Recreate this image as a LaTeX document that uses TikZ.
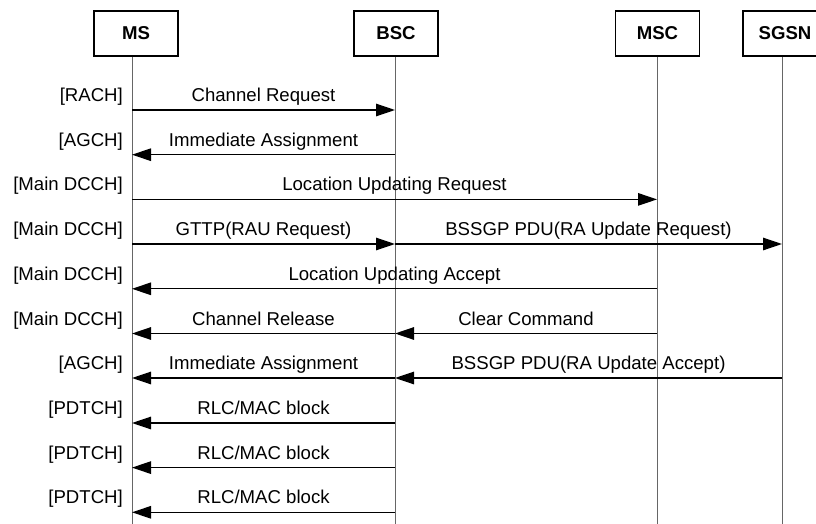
\documentclass[tikz,border=0pt]{standalone}
\usepackage{fontspec}
\setmainfont{Liberation Sans}
\usetikzlibrary{arrows.meta}
\begin{document}
\begin{tikzpicture}[x=1pt,y=-1pt,
  actor/.style={draw, line width=1.6pt, minimum width=84pt, minimum height=45pt,
    font=\fontsize{18.6}{22}\selectfont\bfseries, inner sep=0pt},
  lifeline/.style={draw=black!60, line width=0.9pt},
  msg/.style={line width=1.3pt, -{Triangle[length=19pt,width=12.5pt]}},
  lbl/.style={font=\fontsize{18.6}{22}\selectfont, anchor=base, inner sep=0pt, yshift=8.5pt},
  chan/.style={font=\fontsize{18.6}{22}\selectfont, anchor=base east, inner sep=0pt}]
\useasboundingbox (0,0) rectangle (816,524);
% actors
\node[actor] (ms)   at (136,33.5) {MS};
\node[actor] (bsc)  at (396,33.5) {BSC};
\node[actor] (msc)  at (657.5,33.5) {MSC};
\node[actor] (sgsn) at (785,33.5) {SGSN};
% lifelines
\coordinate (msL)   at (132,524);
\coordinate (bscL)  at (395,524);
\coordinate (mscL)  at (657,524);
\coordinate (sgsnL) at (782,524);
\draw[lifeline] (ms.south -| msL) -- (msL);
\draw[lifeline] (bsc.south -| bscL) -- (bscL);
\draw[lifeline] (msc.south -| mscL) -- (mscL);
\draw[lifeline] (sgsn.south -| sgsnL) -- (sgsnL);
% rows
\coordinate (r1)  at (0,110);
\coordinate (r2)  at (0,154.7);
\coordinate (r3)  at (0,199.4);
\coordinate (r4)  at (0,244);
\coordinate (r5)  at (0,288.8);
\coordinate (r6)  at (0,333.5);
\coordinate (r7)  at (0,378);
\coordinate (r8)  at (0,423);
\coordinate (r9)  at (0,467.6);
\coordinate (r10) at (0,512.3);
% channel labels
\node[chan] (c1)  at ([xshift=-9pt,yshift=8.5pt] r1 -| msL)  {[RACH]};
\node[chan] (c2)  at ([xshift=-9pt,yshift=8.5pt] r2 -| msL)  {[AGCH]};
\node[chan] (c3)  at ([xshift=-9pt,yshift=8.5pt] r3 -| msL)  {[Main DCCH]};
\node[chan] (c4)  at ([xshift=-9pt,yshift=8.5pt] r4 -| msL)  {[Main DCCH]};
\node[chan] (c5)  at ([xshift=-9pt,yshift=8.5pt] r5 -| msL)  {[Main DCCH]};
\node[chan] (c6)  at ([xshift=-9pt,yshift=8.5pt] r6 -| msL)  {[Main DCCH]};
\node[chan] (c7)  at ([xshift=-9pt,yshift=8.5pt] r7 -| msL)  {[AGCH]};
\node[chan] (c8)  at ([xshift=-9pt,yshift=8.5pt] r8 -| msL)  {[PDTCH]};
\node[chan] (c9)  at ([xshift=-9pt,yshift=8.5pt] r9 -| msL)  {[PDTCH]};
\node[chan] (c10) at ([xshift=-9pt,yshift=8.5pt] r10 -| msL) {[PDTCH]};
% messages
\draw[msg] (r1 -| msL) -- node[lbl] {Channel Request} (r1 -| bscL);
\draw[msg] (r2 -| bscL) -- node[lbl] {Immediate Assignment} (r2 -| msL);
\draw[msg] (r3 -| msL) -- node[lbl] {Location Updating Request} (r3 -| mscL);
\draw[msg] (r4 -| msL) -- node[lbl] {GTTP(RAU Request)} (r4 -| bscL);
\draw[msg] (r4 -| bscL) -- node[lbl] {BSSGP PDU(RA Update Request)} (r4 -| sgsnL);
\draw[msg] (r5 -| mscL) -- node[lbl] {Location Updating Accept} (r5 -| msL);
\draw[msg] (r6 -| bscL) -- node[lbl] {Channel Release} (r6 -| msL);
\draw[msg] (r6 -| mscL) -- node[lbl] {Clear Command} (r6 -| bscL);
\draw[msg] (r7 -| bscL) -- node[lbl] {Immediate Assignment} (r7 -| msL);
\draw[msg] (r7 -| sgsnL) -- node[lbl] {BSSGP PDU(RA Update Accept)} (r7 -| bscL);
\draw[msg] (r8 -| bscL) -- node[lbl] {RLC/MAC block} (r8 -| msL);
\draw[msg] (r9 -| bscL) -- node[lbl] {RLC/MAC block} (r9 -| msL);
\draw[msg] (r10 -| bscL) -- node[lbl] {RLC/MAC block} (r10 -| msL);
\end{tikzpicture}
\end{document}
